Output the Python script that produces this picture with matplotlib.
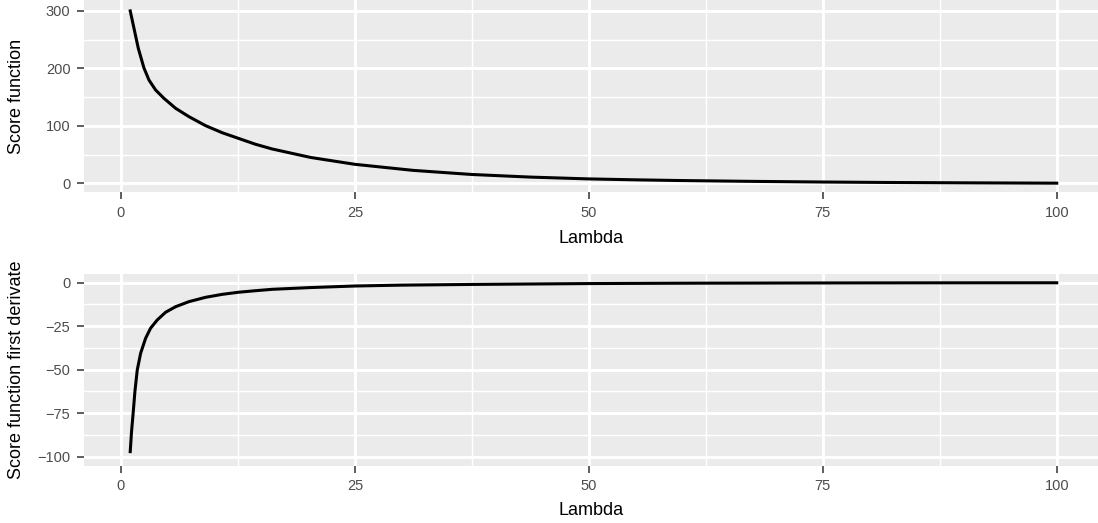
import matplotlib
matplotlib.use("Agg")
import matplotlib.pyplot as plt

# %% Data

# Score function (top panel)
lam_score = [0.99, 1.39, 1.85, 2.45, 2.99, 3.70, 4.59, 5.84, 7.26, 9.04, 10.82,
             12.53, 14.38, 16.16, 20.25, 25, 31.2, 37.5, 43.7, 50, 55, 59.7,
             67, 75, 82, 90, 100]
score = [300, 269.8, 235, 201, 179.8, 162.4, 147.9, 130.5, 116, 100.3, 88,
         78.3, 67.9, 59.7, 45, 33, 22.5, 15.3, 10.8, 7.6, 6.0, 4.8,
         3.4, 2.2, 1.4, 0.8, 0.2]

# First derivative of the score function (bottom panel)
lam_deriv = [0.99, 1.13, 1.31, 1.49, 1.74, 2.10, 2.63, 3.16, 3.88, 4.77, 5.84,
             7.26, 9.04, 10.82, 12.53, 14.38, 16.16, 20.25, 25, 30, 37.5, 45,
             50, 60, 75, 87.5, 100]
deriv = [-97.1, -85.6, -74.5, -62.6, -50.2, -40.6, -32.0, -26.2, -21.4, -17.0, -13.8,
         -10.9, -8.4, -6.7, -5.5, -4.6, -3.8, -2.8, -1.9, -1.4, -1.0, -0.7,
         -0.5, -0.3, -0.15, -0.08, -0.05]

x_ticks = [0, 25, 50, 75, 100]
score_ticks = [0, 100, 200, 300]
deriv_ticks = [-100, -75, -50, -25, 0]

# %% Figure

plt.rcParams["font.family"] = ["Liberation Sans", "DejaVu Sans"]

W, H = 1098, 523
fig = plt.figure(figsize=(W / 100, H / 100), dpi=100)


def px_axes(left, top, right, bottom):
    return fig.add_axes([left / W, 1 - bottom / H, (right - left) / W, (bottom - top) / H])


def gg_style(ax, yticks, yminor):
    ax.set_facecolor("#EBEBEB")
    for s in ax.spines.values():
        s.set_visible(False)
    ax.set_xticks(x_ticks)
    ax.set_xticks([12.5, 37.5, 62.5, 87.5], minor=True)
    ax.set_yticks(yticks)
    ax.set_yticks(yminor, minor=True)
    ax.set_yticklabels([str(t).replace("-", "\u2212") for t in yticks])
    ax.grid(which="major", color="white", lw=2.1)
    ax.grid(which="minor", color="white", lw=1.05)
    ax.set_axisbelow(True)
    ax.tick_params(which="major", length=4.8, width=1.1, color="#333333",
                   labelcolor="#4D4D4D", labelsize=10.5, pad=5)
    ax.tick_params(which="minor", length=0)
    ax.set_xlim(-3.95, 104.41)


ax1 = px_axes(84, 0, 1098, 192.3)
gg_style(ax1, score_ticks, [50, 150, 250])
ax1.plot(lam_score, score, color="black", lw=2.2, solid_joinstyle="round")
ax1.set_ylim(-15.7, 319)
ax1.set_xlabel("Lambda", fontsize=13, labelpad=7.5)
ax1.set_ylabel("Score function", fontsize=13)

ax2 = px_axes(84, 274, 1098, 465.7)
gg_style(ax2, deriv_ticks, [-87.5, -62.5, -37.5, -12.5])
ax2.plot(lam_deriv, deriv, color="black", lw=2.2, solid_joinstyle="round")
ax2.set_ylim(-105.2, 5.0)
ax2.set_xlabel("Lambda", fontsize=13, labelpad=6.5)
ax2.set_ylabel("Score function first derivate", fontsize=13)

for ax in (ax1, ax2):
    ax.yaxis.set_label_coords(-59 / 1014, 0.5)

fig.savefig("out.png", dpi=100)
